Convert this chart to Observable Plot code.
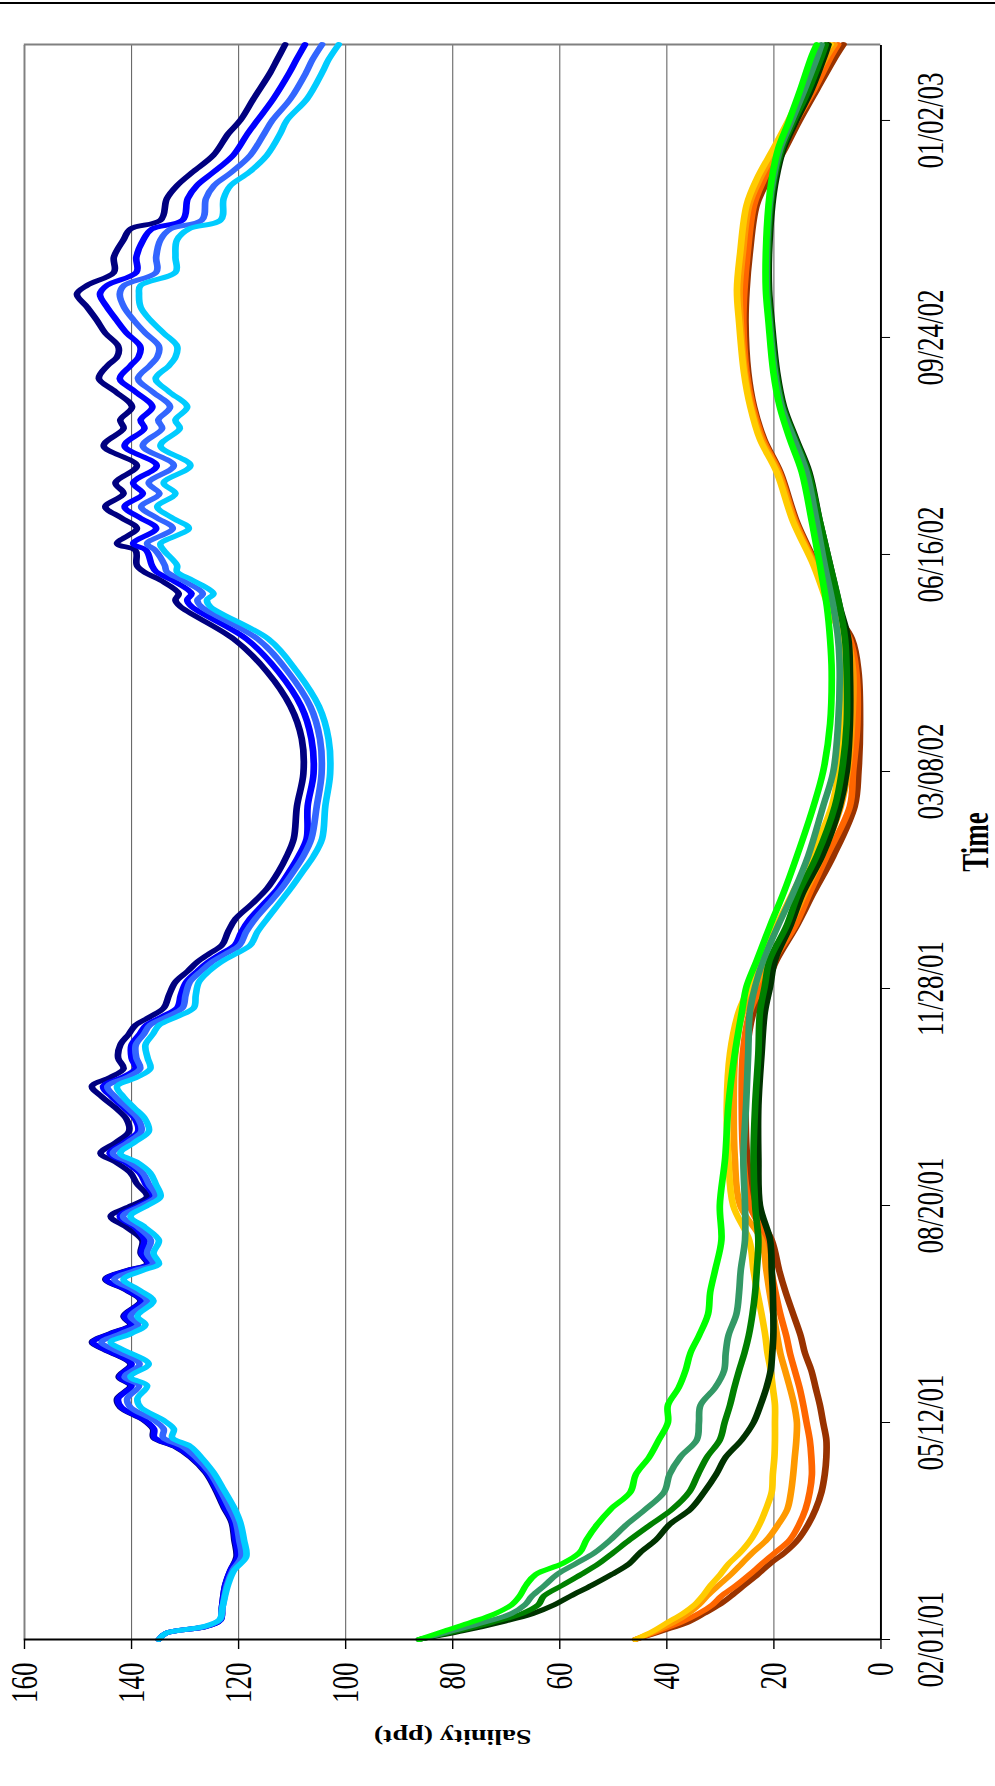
<!DOCTYPE html>
<html><head><meta charset="utf-8">
<script src="https://cdn.jsdelivr.net/npm/d3@7"></script>
<script src="https://cdn.jsdelivr.net/npm/@observablehq/plot@0.6"></script>
<style>
html,body{margin:0;padding:0;background:#fff;}
#page{position:relative;width:995px;height:1786px;overflow:hidden;background:#fff;}
#chart{position:absolute;left:0;top:0;width:1786px;height:711px;transform-origin:0 0;}
#chart svg{max-width:none !important;width:1786px;height:711px;display:block;}
#frameTop{position:absolute;left:0;top:2px;width:995px;height:2px;background:#000;}
</style></head>
<body><div id="page"><div id="chart"></div><div id="frameTop"></div></div>
<script>
// ---- data: days since 02/01/01, salinity (ppt) ----
const dateTicks = [0,100,200,300,400,500,600,700];
const salinityTicks = [0,20,40,60,80,100,120,140,160];

const blueDays = [0,3,6,9,15,25,32,38,46,54,61,70,77,84,89,93,97,101,107,111,117,121,127,134,137,141,145,149,156,161,166,170,173,178,184,190,195,200,204,210,215,220,224,229,234,240,245,250,255,259,263,268,274,279,283,287,291,297,303,308,312,316,320,326,332,339,346,354,361,369,384,399,415,430,446,461,476,479,482,488,492,495,502,505,512,517,522,528,533,541,550,558,562,568,575,581,587,591,596,602,608,614,620,624,630,637,645,650,654,664,670,676,684,694,700,710,722,728,735];
const navy = [134.9,133.5,126,123.4,123.1,122.5,121.5,120.4,120.8,121.3,122.8,124.5,126.2,129,132,135.9,136,137.7,142.1,142.7,140.2,142.4,140.2,145.5,147.4,144,140.2,141.5,138.3,141,144.9,141,137.1,138.3,138,141,143.9,140,137.1,139,140.2,143,145.8,143,140.5,141,143,145.5,147.4,144,141.5,142.5,142.1,140.5,139.3,136.5,134,133,131.8,129.5,127.8,125.5,123.1,122,120.6,117.5,114.7,112.5,111,109.7,109.1,107.9,108.2,110.3,114.7,120.9,130.9,131.8,131.2,134.5,137.7,139,139.3,142.7,139,142,144.9,141.5,143,139,145.2,141.5,142.1,139.9,143,146.1,144.5,142.7,142.5,144.9,146.5,148.3,150.2,148.3,143.3,143.3,141.5,140.2,134.6,133.4,131.5,128.7,124.7,121.9,119.7,117.2,114.1,112.8,111.3];
const blue = [134.9,133.5,126,123.4,123.1,122.5,121.5,120.2,120.6,121.1,122.6,124.3,126,128.8,131.8,135.7,135.8,137.5,141.9,142.5,140,142.2,140,145.3,147.2,143.8,140,141.3,138.1,140.8,144.7,140.8,136.9,138.1,137.6,139.4,142.2,138.7,136,137.4,138.5,141.2,144.1,141.4,138.8,139.4,141.4,143.7,145.3,141.8,139.3,140,140,138.5,137.3,134.3,131.5,130.8,129.8,127.7,125.8,123.3,120.7,119.5,117.9,115.3,112.7,110.5,108.8,107.3,107.1,106,106.4,108.3,112.6,118.5,128.8,129.6,128.8,132.3,135.4,136.2,137.3,139.7,135.4,138.5,141.3,137.9,139.7,135.3,141.3,137.6,138.3,136.1,139.3,142.2,140.2,138.7,138.4,140.9,142.8,144.6,145.9,144.6,139.1,139.1,137.8,136.2,130.5,129.5,127.8,124.8,121,118.3,116.5,113.5,110.5,109.2,107.6];
const royal = [134.9,133.5,126.2,123.5,123,122.2,121.1,119.5,119.9,120.5,121.8,123.7,125.4,128,130.5,134.1,134,135.8,140.2,140.8,138.6,141.3,138.5,143.7,145.6,142,138.8,140.2,137.1,139.7,143.2,139.5,136,137.1,136.4,138.8,141.6,138.1,135.5,136.8,137.9,140.5,143.5,140.8,138.2,138.8,140.8,143,144.5,140.9,138.4,139.1,139.2,137.7,136.6,133.4,130.5,129.9,129.1,127,125.1,122.4,119.8,118.6,116.9,114.4,112,109.7,107.9,106.4,105.4,104.5,104.8,106.6,110.8,116.4,127,127.7,126.7,130.4,133.4,133.8,135.6,137.1,132.3,135.4,138.2,134.8,136.8,132.1,137.9,134.3,135,132.8,136.1,138.8,136.6,135.2,134.9,137.4,139.6,141.4,142.2,141.4,135.4,135.4,134.6,132.7,126.9,126.1,124.6,121.4,117.8,115.2,113.7,110.3,107.4,106.2,104.4];
const sky = [134.9,133.5,126.5,123.6,123,122,120.8,118.6,119,119.7,120.9,123,124.7,127,129,132.4,132.1,134,138.3,138.9,137.1,140.2,136.8,142,143.9,140,137.4,138.9,135.9,138.5,141.5,138,134.9,135.9,134.9,137.5,140.2,137,134.6,135.5,136.5,139,142.1,139.5,136.8,137.5,139.5,141.5,142.7,139,136.5,137,137.4,136,134.9,131.5,128.4,128,127.4,125.5,123.4,120.5,117.8,116.5,114.7,112.5,110.3,108,106,104.4,103.8,102.9,103.2,105,109.1,114.4,125.3,125.9,124.7,128.5,131.5,131.5,134,134.6,129.3,132.5,135.2,131.8,134,129,134.6,131,131.8,129.6,133,135.5,133,131.8,131.5,134,136.5,138.3,138.6,138.3,131.8,131.8,131.5,129.3,123.4,122.8,121.5,118.1,114.7,112.2,111,107.2,104.4,103.2,101.3];

const lowDays = [0,4,8,12,16,20,25,30,35,40,46,53,60,68,76,84,92,100,108,116,124,132,140,150,160,170,184,200,222,246,270,289,301,313,329,344,361,384,400,422,446,461,476,495,515,538,553,568,584,607,622,639,661,673,687,699,714,730,735];
const lime = [86.3,81.5,76.5,72,69,67.5,66.3,64.5,59.5,56.3,55,53,50.5,46.8,45.8,43.3,41.5,39.8,39.8,37.8,36.5,35.6,34,32.3,31.9,31,29.8,30.1,29.1,28.5,27.3,26,25.1,23.2,20.7,18.2,15.7,12.6,10.8,9.5,9.2,9.5,10.1,11.4,12.9,14.8,17,18.9,20.1,21,21.5,21.5,21,20.4,19.2,17.3,15.1,12.9,12];
const seaGreen = [86.3,80,74,69,66.5,65.2,62.8,60.5,57,53.5,50.5,47.5,44,40.5,39.5,37.5,34.4,34,33.7,31,29.3,29,28.5,27,26.5,26.2,25.4,25.4,25.7,25.2,24.8,24.5,23.5,22,19.2,16.4,13.6,10.8,8.9,8,7.7,8,8.9,10.5,12,13.9,16.2,18.5,19.8,20.8,21.3,21.3,20.8,20.1,18.8,16.8,14.3,11.8,11.1];
const green = [86.3,79,72.5,67,64,63,59.5,56,52.7,50,46.9,43,39,35.8,34.2,32.5,30.1,29.2,28.2,27.4,26.5,25.5,24.7,24,23.5,23.2,22.9,23.5,23.8,23.5,22.9,22.6,21.7,20.8,17.6,15.4,12,8.6,7.3,6.4,6.4,6.7,7.7,9.5,11.4,13.6,16,18.3,19.6,20.6,21.1,21.1,20.6,19.9,18.5,16.4,13.5,11,10.3];
const darkGreen = [86.3,78,71,65,61,58,54,50.3,47,45,42,39.5,35.6,33,30.8,29,26,23.8,22.5,21.4,20.6,20.3,20.1,20.1,20.2,20.4,20.7,22.6,22.9,22.9,22.3,21.7,20.7,19.8,16.9,14.6,11,7.7,6.4,5.8,5.8,6.1,7.7,9.5,11.4,13.4,15.8,18.1,19.4,20.4,20.9,20.9,20.3,19.6,18.2,16,13,10.5,9.8];
const gold = [45.9,42.5,39.8,37,34.8,33.3,31.8,30,28.4,26.3,24.3,22.7,21.5,20.4,20.2,19.9,19.8,19.8,19.8,20.2,20.6,21.2,21.6,22.3,23.1,23.8,24.6,27.6,28.5,28.8,28.2,26.6,24.5,22.5,19.5,16.5,13,9.2,7.9,7.2,6.9,7.3,9.8,12.6,16.4,19.5,22.6,24.4,25.6,26.5,26.9,26.3,25.1,23.2,20.1,17.5,14.5,11,9.4];
const orange = [45.9,42,38.6,36,34,32.5,30.3,28,26,24,21.3,19.2,17.5,16.8,16.4,16.1,15.8,15.7,16.2,17,17.9,18.8,19.4,20.1,20.8,21.4,22.3,26.3,27.3,27.5,27.2,25.8,23.5,21,17,14.2,11,7.5,6.2,5.4,5.2,6.3,9.6,12.4,16.1,19.2,22.3,24.2,25.4,26.2,26.4,25.8,24.6,22.6,19.5,16.9,13.6,10,8.7];
const orangeRed = [45.9,41.5,37.3,34,31.5,29.8,27,24.5,22.2,19.8,17,15.3,14.1,13.3,12.9,13,13.3,13.9,14.5,15.2,16.1,17,17.7,18.8,19.7,20.5,21.3,24.5,25.7,26,25.8,24.5,22.3,20,16,13.3,10.1,5.8,5.2,4.4,4.6,5.8,9.4,12.2,15.9,19,22,23.9,25.1,25.7,25.5,24.9,23.7,21.8,18.7,16,12.5,9.2,8];
const brown = [45.9,40.8,36,33,30.2,28,25.5,23,20.7,18,15.5,13.6,12.2,11.1,10.5,10.2,10.2,10.8,11.4,12.2,13,14.2,15,16.4,17.8,19,20.4,23.8,25,25.3,25.1,23.8,21.5,19.5,15.7,12.6,8.9,4.9,4.2,3.9,4.2,5.4,9.2,12,15.7,18.8,21.8,23.7,24.8,25.3,25.1,24.5,23.2,21,17.9,15.4,12,8.3,7];

const seriesNames = ["navy","blue","royal","sky","brown","orangeRed","orange","gold","darkGreen","green","seaGreen","lime"];
const seriesColors = ["#000080","#0000FF","#3366FF","#00CCFF","#993300","#FF6600","#FF9900","#FFCC00","#003300","#008000","#339966","#00FF00"];
const seriesValues = [navy,blue,royal,sky,brown,orangeRed,orange,gold,darkGreen,green,seaGreen,lime];
const seriesDays = [blueDays,blueDays,blueDays,blueDays,lowDays,lowDays,lowDays,lowDays,lowDays,lowDays,lowDays,lowDays];

// ---- build ----
const fmtDay = d => {
  const t = new Date(Date.UTC(2001, 1, 1) + d * 86400000);
  const p = n => String(n).padStart(2, "0");
  return `${p(t.getUTCMonth() + 1)}/${p(t.getUTCDate())}/${p(t.getUTCFullYear() % 100)}`;
};
const W = 1786, H = 711, S = 995 / H;
const lineMarks = seriesNames.map((name, i) => {
  const rows = seriesDays[i].map((d, j) => ({series: name, day: d, value: seriesValues[i][j]}));
  return Plot.line(rows, {x: "day", y: "value", stroke: seriesColors[i], strokeWidth: 4.8, curve: "catmull-rom"});
});
const plot = Plot.plot({
  width: W, height: H,
  marginLeft: 146, marginRight: 45, marginTop: 17, marginBottom: 82,
  style: {fontFamily: '"Liberation Serif","Times New Roman",serif', fontSize: "27px", color: "#000", background: "#fff", overflow: "visible", maxWidth: "none"},
  x: {domain: [0, 735], ticks: dateTicks, tickFormat: fmtDay, tickSize: 7, tickPadding: 18, label: null},
  y: {domain: [0, 160], ticks: salinityTicks, tickSize: 9, tickPadding: 14, label: null},
  marks: [
    Plot.ruleY(salinityTicks.filter(v => v > 0 && v < 160), {stroke: "#6a6a6a", strokeWidth: 0.8}),
    Plot.ruleY([160], {stroke: "#808080", strokeWidth: 1.4}),
    Plot.ruleX([735], {stroke: "#808080", strokeWidth: 2}),
    ...lineMarks,
    Plot.ruleX([0], {stroke: "#000", strokeWidth: 2}),
    Plot.ruleY([0], {stroke: "#000", strokeWidth: 1.4}),
    Plot.text(["Time"], {text: d => d, frameAnchor: "bottom", dy: 68, lineAnchor: "middle", fontWeight: "bold", fontSize: 27}),
    Plot.text(["Salinity (ppt)"], {text: d => d, frameAnchor: "left", dx: -97, rotate: -90, textAnchor: "middle", lineAnchor: "middle", fontWeight: "bold", fontSize: 20})
  ]
});
plot.style.maxWidth = "none";
const chart = document.getElementById("chart");
chart.appendChild(plot);
chart.style.transform = `translate(0px, 1786px) rotate(-90deg) scale(1, ${S})`;
</script>
</body></html>
